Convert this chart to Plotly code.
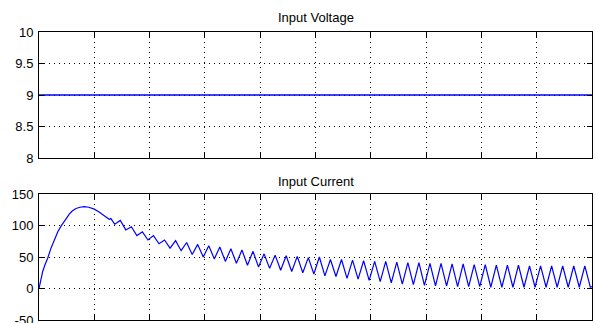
import plotly.graph_objects as go

# ---- data (x in grid divisions, 0..10) ----
volt_t = [0, 10]
volt_v = [9, 9]

rise_t = [0.0, 0.067, 0.11, 0.157, 0.217, 0.277, 0.34, 0.398, 0.47, 0.548, 0.6, 0.669, 0.74, 0.819, 0.9, 1.0, 1.08, 1.15, 1.22, 1.27, 1.3]
rise_i = [0, 27, 38, 48, 64, 78, 90, 99, 109, 118, 123, 127, 129, 130, 129, 126, 122, 118, 113, 110, 111]

trough_t = [1.37, 1.57, 1.77, 1.97, 2.17, 2.37, 2.57, 2.77, 2.97, 3.17, 3.37, 3.57, 3.77, 3.97, 4.17,
            4.37, 4.57, 4.77, 4.97, 5.17, 5.37, 5.57, 5.77, 5.97, 6.17, 6.37, 6.57, 6.77, 6.97, 7.17,
            7.37, 7.57, 7.77, 7.97, 8.17, 8.37, 8.57, 8.77, 8.97, 9.17, 9.37, 9.57, 9.77, 9.97]
trough_i = [102, 93, 84, 77, 71, 64, 60, 54, 50, 47, 43, 40, 37, 34, 32,
            29, 27, 25, 23, 20, 19, 16, 15, 13, 11, 9, 7, 6, 5, 4,
            4, 3, 3, 3, 2, 2, 2, 2, 2, 2, 2, 2, 2, 2]
peak_t = [1.47, 1.67, 1.87, 2.07, 2.27, 2.47, 2.67, 2.87, 3.07, 3.27, 3.47, 3.67, 3.87, 4.07, 4.27,
          4.47, 4.67, 4.87, 5.07, 5.27, 5.47, 5.67, 5.87, 6.07, 6.27, 6.47, 6.67, 6.87, 7.07, 7.27,
          7.47, 7.67, 7.87, 8.07, 8.27, 8.47, 8.67, 8.87, 9.07, 9.27, 9.47, 9.67, 9.87]
peak_i = [108, 98, 90, 84, 77, 76, 73, 70, 68, 66, 63, 61, 59, 55, 53,
          52, 51, 49, 50, 46, 46, 45, 44, 43, 43, 42, 41, 41, 40, 40,
          39, 39, 38, 38, 37, 37, 37, 36, 36, 36, 36, 36, 36]
end_t = [10.0]
end_i = [3]

top_yticks = [8, 8.5, 9, 9.5, 10]
bot_yticks = [-50, 0, 50, 100, 150]
x_ticks = list(range(0, 11))

# assemble current waveform: rise, then alternating trough/peak
cur_t = list(rise_t)
cur_i = list(rise_i)
for k in range(len(trough_t)):
    cur_t.append(trough_t[k]); cur_i.append(trough_i[k])
    if k < len(peak_t):
        cur_t.append(peak_t[k]); cur_i.append(peak_i[k])
cur_t += end_t
cur_i += end_i

BLUE = "#0000ff"
FONT = "Liberation Sans, Arial, sans-serif"

fig = go.Figure()
fig.add_trace(go.Scatter(x=volt_t, y=volt_v, mode="lines", line=dict(color=BLUE, width=1.3),
                         xaxis="x", yaxis="y", showlegend=False, hoverinfo="skip"))
fig.add_trace(go.Scatter(x=cur_t, y=cur_i, mode="lines", line=dict(color=BLUE, width=1.2),
                         xaxis="x2", yaxis="y2", showlegend=False, hoverinfo="skip"))

common_x = dict(range=[0, 10], tickvals=x_ticks, showticklabels=False, ticks="inside", ticklen=5,
                tickcolor="#000", showline=True, linecolor="#000", linewidth=1, mirror="ticks",
                showgrid=True, gridcolor="#000", gridwidth=1, griddash="1px,4px", zeroline=False,
                fixedrange=True, automargin=False)
common_y = dict(ticks="inside", ticklen=5, tickcolor="#000", showline=True, linecolor="#000",
                linewidth=1, mirror="ticks", showgrid=True, gridcolor="#000", gridwidth=1,
                griddash="1px,4px", zeroline=False, tickfont=dict(family=FONT, size=13, color="#000"),
                ticklabelstandoff=2, fixedrange=True, automargin=False, ticklabeloverflow="allow")

fig.update_layout(
    width=595, height=323,
    margin=dict(l=39, r=3, t=32, b=3, autoexpand=False),
    paper_bgcolor="white", plot_bgcolor="white",
    xaxis=dict(domain=[0, 1], anchor="y", **common_x),
    yaxis=dict(domain=[0.5625, 1.0], anchor="x", range=[8, 10], tickvals=top_yticks,
               ticktext=["8", "8.5", "9", "9.5", "10"], **common_y),
    xaxis2=dict(domain=[0, 1], anchor="y2", **common_x),
    yaxis2=dict(domain=[0.0, 0.4375], anchor="x2", range=[-50, 150], tickvals=bot_yticks,
                ticktext=["-50", "0", "50", "100", "150"], **common_y),
    annotations=[
        dict(text="Input Voltage", x=0.5, xref="paper", y=18, yref="paper", showarrow=False,
             font=dict(family=FONT, size=13, color="#000")),
        dict(text="Input Current", x=0.5, xref="paper", y=181.7, yref="paper", showarrow=False,
             font=dict(family=FONT, size=13, color="#000")),
    ],
)
# convert pixel y positions of titles to paper fraction
plot_h = 323 - 32 - 3
for a in fig.layout.annotations:
    a.y = (323 - 3 - a.y) / plot_h
    a.yanchor = "middle"

fig.write_html("out.html")
